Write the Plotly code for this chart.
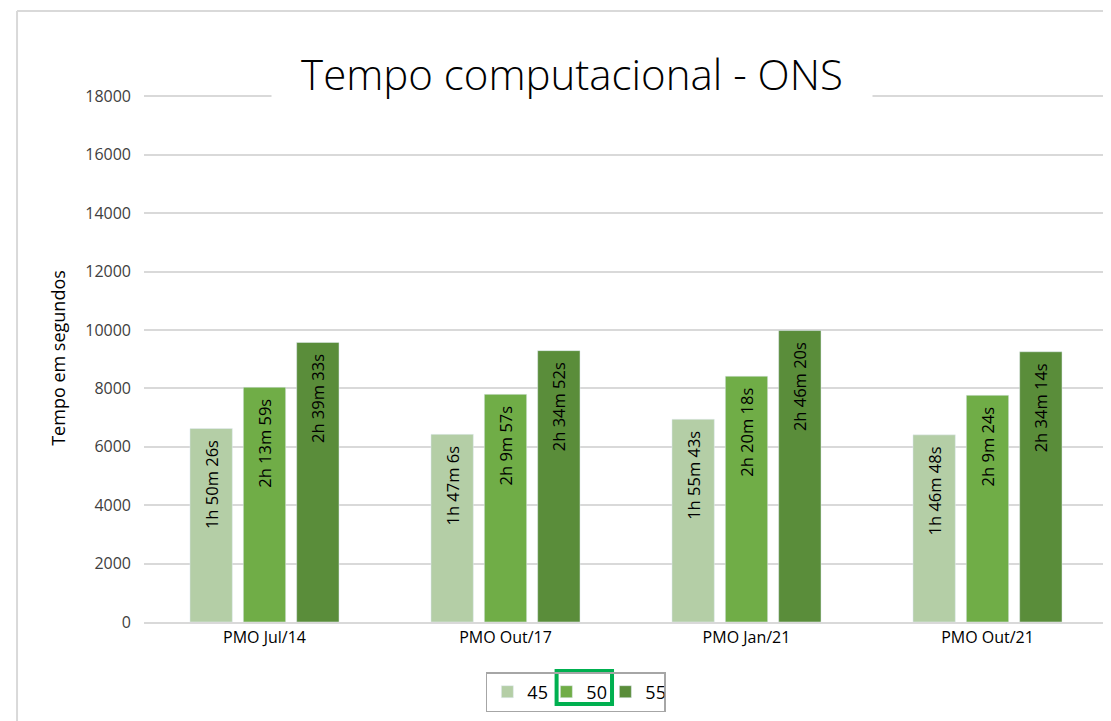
import plotly.graph_objects as go

categorias = ["PMO Jul/14", "PMO Out/17", "PMO Jan/21", "PMO Out/21"]
series = ["45", "50", "55"]
tempo_45 = [6626, 6426, 6943, 6408]
tempo_50 = [8039, 7797, 8418, 7764]
tempo_55 = [9573, 9292, 9980, 9254]
rotulos_45 = ["1h 50m 26s", "1h 47m 6s", "1h 55m 43s", "1h 46m 48s"]
rotulos_50 = ["2h 13m 59s", "2h 9m 57s", "2h 20m 18s", "2h 9m 24s"]
rotulos_55 = ["2h 39m 33s", "2h 34m 52s", "2h 46m 20s", "2h 34m 14s"]
y_ticks = [0, 2000, 4000, 6000, 8000, 10000, 12000, 14000, 16000, 18000]

cores = ["#B4CEA6", "#70AD47", "#5A8D3A"]
valores = [tempo_45, tempo_50, tempo_55]
rotulos = [rotulos_45, rotulos_50, rotulos_55]

fig = go.Figure()
for nome, vals, txt, cor in zip(series, valores, rotulos, cores):
    fig.add_trace(go.Bar(
        x=categorias, y=vals, name=nome, marker_color=cor,
        text=[t + "\u00a0\u00a0" for t in txt], textposition="inside", insidetextanchor="end",
        textangle=-90, constraintext="none",
        textfont=dict(family="Open Sans", size=16.5, color="#000000"),
    ))

fig.update_layout(
    width=1111, height=721,
    margin=dict(l=136, r=11, t=86, b=107),
    paper_bgcolor="white", plot_bgcolor="white",
    barmode="group", bargap=0.336, bargroupgap=0.206,
    font=dict(family="Open Sans", color="#404040"),
    showlegend=True,
    legend=dict(orientation="h", x=0.448, xanchor="center", y=-0.0947, yanchor="top",
                bordercolor="#A6A6A6", borderwidth=1.5, entrywidth=14,
                bgcolor="rgba(0,0,0,0)",
                font=dict(size=18, color="#000000")),
    uniformtext=dict(mode=False),
)
fig.update_yaxes(range=[0, 18080], tickvals=y_ticks, ticktext=[str(v) for v in y_ticks],
                 showgrid=True, gridcolor="#D9D9D9", gridwidth=1.5, zeroline=False,
                 tickfont=dict(size=16, color="#404040"), ticklabelstandoff=12,
                 title=dict(text="Tempo em segundos", standoff=14,
                            font=dict(size=18, color="#000000")))
fig.update_xaxes(showline=True, linecolor="#D9D9D9", linewidth=1.5,
                 tickfont=dict(size=16, color="#000000"), ticks="")

# título com fundo branco sobre a linha de grade
fig.add_annotation(text="Tempo computacional - ONS", xref="paper", yref="paper",
                   x=0.444, y=1.0398, yanchor="middle", showarrow=False,
                   font=dict(family="Open Sans", size=42, color="#000000", weight=300),
                   bgcolor="white", borderpad=0, height=52, width=600)

# moldura do gráfico
fig.add_shape(type="line", xref="paper", yref="paper", x0=-0.1317, x1=1.02, y0=1.157, y1=1.157,
              line=dict(color="#D9D9D9", width=2))
fig.add_shape(type="line", xref="paper", yref="paper", x0=-0.1317, x1=-0.1317, y0=1.157, y1=-0.22,
              line=dict(color="#D9D9D9", width=2))
# realce verde em volta do item "50" da legenda
fig.add_shape(type="rect", xref="paper", yref="paper", x0=0.428, x1=0.4855, y0=-0.0928, y1=-0.1553,
              line=dict(color="#00B050", width=4))

fig.write_html("out.html")
